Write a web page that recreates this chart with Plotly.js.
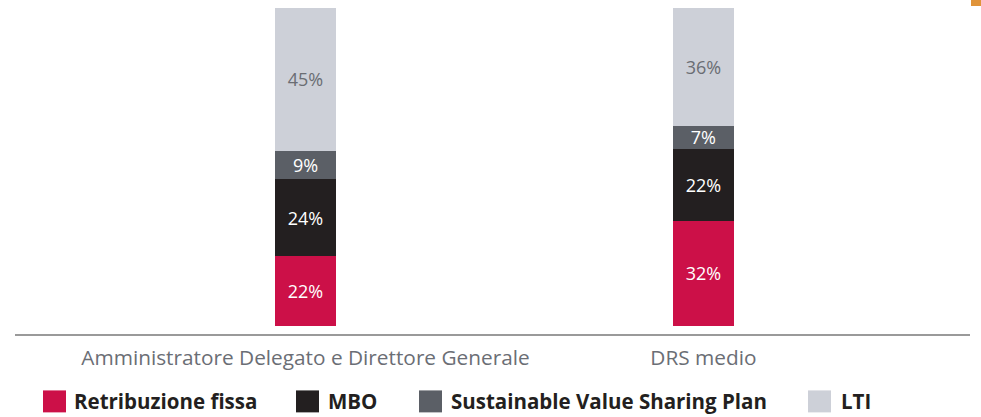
<!DOCTYPE html>
<html>
<head>
<meta charset="utf-8">
<script src="https://cdn.plot.ly/plotly-3.0.1.min.js"></script>
<style>
html,body{margin:0;padding:0;background:#fff;}
#chart{width:981px;height:417px;}
</style>
</head>
<body>
<div id="chart"></div>
<script>
// ---- Data ----
const categories = ["Amministratore Delegato e Direttore Generale", "DRS medio"];
const seriesNames = ["Retribuzione fissa", "MBO", "Sustainable Value Sharing Plan", "LTI"];
const retribuzioneFissa = [22, 32];
const mbo = [24, 22];
const svsp = [9, 7];
const lti = [45, 36];

const seriesValues = [retribuzioneFissa, mbo, svsp, lti];
const colors = ["#CC1048", "#231F20", "#5B5F66", "#CDD0D8"];
const textColors = ["#ffffff", "#ffffff", "#ffffff", "#6A6D73"];

const W = 981, H = 417;
const mL = 15, mR = 11, mT = 8, mB = 82.5;
const plotW = W - mL - mR, plotH = H - mT - mB;
const px2x = p => (p - mL) / plotW;
const px2y = p => (H - mB - p) / plotH;

const traces = seriesValues.map((vals, i) => ({
  type: 'bar',
  x: [0, 1],
  y: vals,
  name: seriesNames[i],
  width: 0.153,
  marker: {color: colors[i], line: {width: 0}},
  text: vals.map(v => v + '%'),
  texttemplate: '%{text}',
  textposition: 'inside',
  insidetextanchor: 'middle',
  textangle: 0,
  constraintext: 'none',
  textfont: {family: '"Open Sans", sans-serif', size: 18, color: textColors[i]},
  hoverinfo: 'skip',
  showlegend: false
}));

// manual legend
const legSq = [43, 296, 419, 808];
const legTx = [74, 328, 451, 841];
const shapes = [];
const annotations = [];
seriesNames.forEach((n, i) => {
  shapes.push({type: 'rect', xref: 'paper', yref: 'paper',
    x0: px2x(legSq[i]), x1: px2x(legSq[i] + 23), y0: px2y(413), y1: px2y(391),
    fillcolor: colors[i], line: {width: 0}});
  annotations.push({xref: 'paper', yref: 'paper', x: px2x(legTx[i]), y: px2y(402),
    xanchor: 'left', yanchor: 'middle', showarrow: false, text: '<b>' + n + '</b>',
    xshift: -1, borderpad: 0,
    font: {family: '"Open Sans", sans-serif', size: 20.5, color: '#231F20'}});
});
// decorative orange corner mark
shapes.push({type: 'rect', xref: 'paper', yref: 'paper',
  x0: px2x(971), x1: px2x(982), y0: px2y(6), y1: px2y(-1),
  fillcolor: '#E0943A', line: {width: 0}});

const layout = {
  width: W, height: H,
  margin: {l: mL, r: mR, t: mT, b: mB, pad: 0},
  paper_bgcolor: '#fff', plot_bgcolor: '#fff',
  barmode: 'stack',
  barnorm: 'percent',
  showlegend: false,
  xaxis: {
    range: [-0.73, 1.67],
    tickvals: [0, 1],
    ticktext: categories,
    ticks: '',
    ticklabelstandoff: 5,
    showgrid: false, zeroline: false,
    showline: true, linecolor: '#9A9A9A', linewidth: 1.5,
    tickfont: {family: '"Open Sans", sans-serif', size: 20.8, color: '#6B6E75'},
    fixedrange: true
  },
  yaxis: {
    range: [-2.67, 100],
    showgrid: false, zeroline: false, showline: false,
    showticklabels: false, ticks: '', fixedrange: true
  },
  shapes: shapes,
  annotations: annotations
};

Plotly.newPlot('chart', traces, layout, {displayModeBar: false, staticPlot: true});
</script>
</body>
</html>
